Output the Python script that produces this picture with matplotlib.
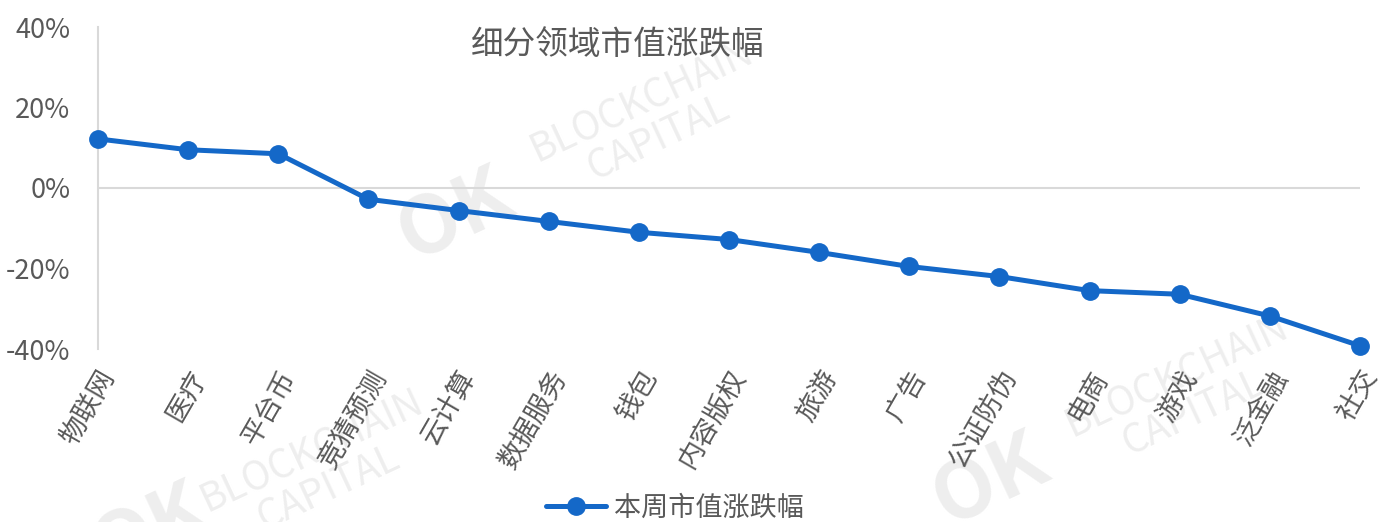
import matplotlib
matplotlib.use("Agg")
import matplotlib.pyplot as plt
from matplotlib.ticker import FuncFormatter

plt.rcParams['font.family'] = ['Noto Sans CJK SC', 'DejaVu Sans']

categories = ["物联网", "医疗", "平台币", "竞猜预测", "云计算", "数据服务", "钱包", "内容版权",
              "旅游", "广告", "公证防伪", "电商", "游戏", "泛金融", "社交"]
values = [12.2, 9.5, 8.5, -2.8, -5.6, -8.3, -11.0, -12.8, -16.0, -19.5, -22.0, -25.5, -26.4, -31.8, -39.2]
yticks = [-40, -20, 0, 20, 40]
title = "细分领域市值涨跌幅"
series_name = "本周市值涨跌幅"

color = "#1468c8"
gray = "#595959"

fig = plt.figure(figsize=(13.84, 5.22), dpi=100)
ax = fig.add_axes([98/1384, 1-349/522, (1360-98)/1384, (349-27)/522], zorder=2)
ax.patch.set_alpha(0)

x = list(range(len(categories)))
ax.plot(x, values, color=color, lw=3.6, marker='o', ms=12.5, label=series_name,
        solid_capstyle='round', zorder=3, clip_on=False)

ax.set_xlim(0, len(categories)-1)
ax.set_ylim(-40, 40)
ax.set_yticks(yticks)
ax.yaxis.set_major_formatter(FuncFormatter(lambda v, p: f"{v:.0f}%"))
ax.set_xticks(x)
ax.set_xticklabels(categories, rotation=60, ha='right', va='top', rotation_mode='anchor')
ax.tick_params(axis='both', length=0, labelsize=19.5, labelcolor=gray)
ax.tick_params(axis='x', pad=12)
ax.tick_params(axis='y', pad=20)

for s in ['top', 'right', 'bottom']:
    ax.spines[s].set_visible(False)
ax.spines['left'].set_color('#d9d9d9')
ax.spines['left'].set_linewidth(1.5)
ax.axhline(0, color='#d9d9d9', lw=1.5, zorder=1)

fig.text(618/1384, 1-45/522, title, ha='center', va='center', fontsize=23.5, color=gray)

# faint watermarks (background)
wm = '#eeeeee'
for (ox, oy, bx, by) in [(455, 215, 650, 120), (990, 480, 1185, 395), (150, 530, 320, 470)]:
    fig.text(ox/1384, 1-oy/522, "OK", fontsize=58, fontweight='bold', color=wm,
             rotation=25, ha='center', va='center', zorder=0)
    fig.text(bx/1384, 1-by/522, "BLOCKCHAIN\nCAPITAL", fontsize=28, color=wm,
             rotation=25, ha='center', va='center', zorder=0, linespacing=1.0)

leg = fig.legend(loc='center', bbox_to_anchor=(675/1384, 1-508/522), frameon=False,
                 fontsize=19.5, handlelength=2.2, handletextpad=0.3, labelcolor=gray)

fig.savefig("out.png", dpi=100)
